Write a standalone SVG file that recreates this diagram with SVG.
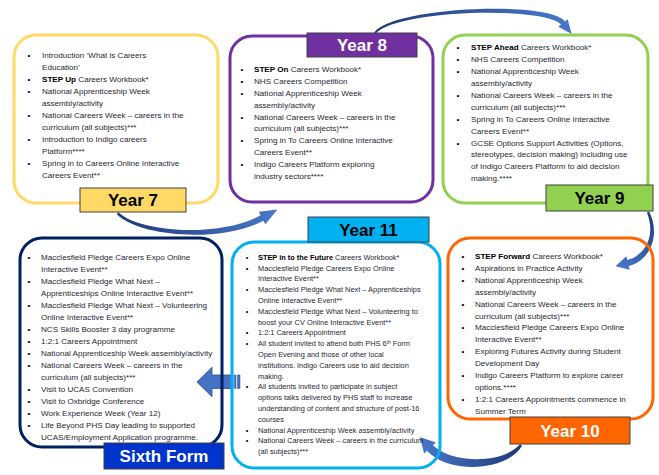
<svg xmlns="http://www.w3.org/2000/svg" width="659" height="475" viewBox="0 0 659 475">
<defs>
<style>
.t{font-family:"Liberation Sans",Arial,sans-serif;font-size:8.1px;fill:#1f1f33}
.s{font-size:7.4px}
.b{font-weight:bold;fill:#000}
.bu{text-anchor:middle;fill:#000}
.lbl{font-family:"Liberation Sans",Arial,sans-serif;font-weight:bold;font-size:17px;text-anchor:middle}
.box{fill:none;stroke-width:3}
.lab{stroke:#404040;stroke-width:1}
.arr{stroke:none}
</style>
<linearGradient id="g1" gradientUnits="userSpaceOnUse" x1="118" y1="214" x2="278" y2="208"><stop offset="0" stop-color="#1F3A78"/><stop offset="1" stop-color="#4A78CC"/></linearGradient>
<linearGradient id="g2" gradientUnits="userSpaceOnUse" x1="375" y1="33" x2="571" y2="34"><stop offset="0" stop-color="#1F3A78"/><stop offset="1" stop-color="#4A78CC"/></linearGradient>
<linearGradient id="g3" gradientUnits="userSpaceOnUse" x1="648" y1="212" x2="615" y2="266"><stop offset="0" stop-color="#1F3A78"/><stop offset="1" stop-color="#4A78CC"/></linearGradient>
<linearGradient id="g4" gradientUnits="userSpaceOnUse" x1="521" y1="445" x2="420" y2="437"><stop offset="0" stop-color="#1F3A78"/><stop offset="1" stop-color="#4A78CC"/></linearGradient>
</defs>
<rect width="659" height="475" fill="#fff"/>

<g id="connectors">
<path id="a7to8" class="arr" fill="url(#g1)" d="M118,212 C140,233 220,237.5 260.6,215.3 L258.75,211.8 L277.5,209.5 L265.25,224.2 L263.4,220.7 C221,243 140,237 117,214.5 Z"/>
<path id="a8to9" class="arr" fill="url(#g2)" d="M375.8,33.6 C396,9.5 546,6 561,24.5 L558.3,26.7 L571.7,34 L567.7,19.3 L565,21.5 C550,0.5 394,6.5 374.2,32.4 Z"/>
<path id="a9to10" class="arr" fill="url(#g3)" d="M646.9,212.5 C656,235 646,255 627.3,260.1 L626.3,256.2 L615.4,266.2 L629.7,269.8 L628.7,265.9 C650,261 661,235 649.1,211.5 Z"/>
<path id="a10to11" class="arr" fill="url(#g4)" d="M520,444.3 C503,464 452,464 433,445.3 L435.9,442.6 L419.9,436.9 L424.1,453.4 L427,450.7 C448,474 507,472 522,445.7 Z"/>
<g id="a11to6">
<path fill="#4472C4" stroke="#2F528F" stroke-width="0.8" d="M197,382 L212,367.3 L212,375 L233,375 L233,388.5 L212,388.5 L212,396.7 Z"/>
<rect x="234.5" y="375" width="1.5" height="13.5" fill="#4472C4" stroke="#2F528F" stroke-width="0.5"/>
<rect x="237.5" y="375" width="2.5" height="13.5" fill="#4472C4" stroke="#2F528F" stroke-width="0.5"/>
</g>
</g>

<g id="year7">
<rect class="box" x="14" y="35" width="204" height="168" rx="22" stroke="#FFD966"/>
<rect class="lab" x="80" y="188" width="106" height="24" fill="#FFD966"/>
<text class="lbl" x="133" y="206" fill="#000">Year 7</text>
<g class="t">
<text class="bu" x="29" y="57.5">•</text><text x="42" y="57.5">Introduction ‘What is Careers</text>
<text x="42" y="69.5">Education’</text>
<text class="bu" x="29" y="81.5">•</text><text x="42" y="81.5"><tspan class="b">STEP Up</tspan> Careers Workbook*</text>
<text class="bu" x="29" y="93.5">•</text><text x="42" y="93.5">National Apprenticeship Week</text>
<text x="42" y="105.5">assembly/activity</text>
<text class="bu" x="29" y="117.5">•</text><text x="42" y="117.5">National Careers Week – careers in the</text>
<text x="42" y="129.5">curriculum (all subjects)***</text>
<text class="bu" x="29" y="141.5">•</text><text x="42" y="141.5">Introduction to Indigo careers</text>
<text x="42" y="153.5">Platform****</text>
<text class="bu" x="29" y="165.5">•</text><text x="42" y="165.5">Spring in to Careers Online Interactive</text>
<text x="42" y="177.5">Careers Event**</text>
</g>
</g>

<g id="year8">
<rect class="box" x="230" y="36" width="203" height="166" rx="22" stroke="#7030A0"/>
<rect class="lab" x="307" y="33" width="110" height="24" fill="#7030A0"/>
<text class="lbl" x="362" y="51" fill="#fff">Year 8</text>
<g class="t">
<text class="bu" x="242" y="72.3">•</text><text x="254" y="72.3"><tspan class="b">STEP On</tspan> Careers Workbook*</text>
<text class="bu" x="242" y="84.1">•</text><text x="254" y="84.1">NHS Careers Competition</text>
<text class="bu" x="242" y="95.9">•</text><text x="254" y="95.9">National Apprenticeship Week</text>
<text x="254" y="107.7">assembly/activity</text>
<text class="bu" x="242" y="119.5">•</text><text x="254" y="119.5">National Careers Week – careers in the</text>
<text x="254" y="131.3">curriculum (all subjects)***</text>
<text class="bu" x="242" y="143.1">•</text><text x="254" y="143.1">Spring in To Careers Online Interactive</text>
<text x="254" y="154.9">Careers Event**</text>
<text class="bu" x="242" y="166.7">•</text><text x="254" y="166.7">Indigo Careers Platform exploring</text>
<text x="254" y="178.5">industry sectors****</text>
</g>
</g>

<g id="year9">
<rect class="box" x="443" y="35" width="205" height="168" rx="22" stroke="#92D050"/>
<rect class="lab" x="546" y="185" width="107" height="26" fill="#92D050"/>
<text class="lbl" x="599.5" y="204" fill="#000">Year 9</text>
<g class="t">
<text class="bu" x="458" y="50.3">•</text><text x="471" y="50.3"><tspan class="b">STEP Ahead</tspan> Careers Workbook*</text>
<text class="bu" x="458" y="62.2">•</text><text x="471" y="62.2">NHS Careers Competition</text>
<text class="bu" x="458" y="74.1">•</text><text x="471" y="74.1">National Apprenticeship Week</text>
<text x="471" y="86">assembly/activity</text>
<text class="bu" x="458" y="97.9">•</text><text x="471" y="97.9">National Careers Week – careers in the</text>
<text x="471" y="109.8">curriculum (all subjects)***</text>
<text class="bu" x="458" y="121.7">•</text><text x="471" y="121.7">Spring in To Careers Online Interactive</text>
<text x="471" y="133.6">Careers Event**</text>
<text class="bu" x="458" y="145.5">•</text><text x="471" y="145.5">GCSE Options Support Activities (Options,</text>
<text x="471" y="157.4">stereotypes, decision making) including use</text>
<text x="471" y="169.3">of Indigo Careers Platform to aid decision</text>
<text x="471" y="181.2">making.****</text>
</g>
</g>

<g id="sixthform">
<rect class="box" x="20" y="238" width="202" height="209" rx="22" stroke="#002060"/>
<rect class="lab" x="104" y="443" width="120" height="26" fill="#0033CC"/>
<text class="lbl" x="164" y="462" fill="#fff">Sixth Form</text>
<g class="t">
<text class="bu" x="29" y="260.3">•</text><text x="41" y="260.3">Macclesfield Pledge Careers Expo Online</text>
<text x="41" y="272.3">Interactive Event**</text>
<text class="bu" x="29" y="284.2">•</text><text x="41" y="284.2">Macclesfield Pledge What Next –</text>
<text x="41" y="296.2">Apprenticeships Online Interactive Event**</text>
<text class="bu" x="29" y="308.1">•</text><text x="41" y="308.1">Macclesfield Pledge What Next – Volunteering</text>
<text x="41" y="320.1">Online Interactive Event**</text>
<text class="bu" x="29" y="332.1">•</text><text x="41" y="332.1">NCS Skills Booster 3 day programme</text>
<text class="bu" x="29" y="344">•</text><text x="41" y="344">1:2:1 Careers Appointment</text>
<text class="bu" x="29" y="356">•</text><text x="41" y="356">National Apprenticeship Week assembly/activity</text>
<text class="bu" x="29" y="367.9">•</text><text x="41" y="367.9">National Careers Week – careers in the</text>
<text x="41" y="379.9">curriculum (all subjects)***</text>
<text class="bu" x="29" y="391.9">•</text><text x="41" y="391.9">Visit to UCAS Convention</text>
<text class="bu" x="29" y="403.8">•</text><text x="41" y="403.8">Visit to Oxbridge Conference</text>
<text class="bu" x="29" y="415.8">•</text><text x="41" y="415.8">Work Experience Week (Year 12)</text>
<text class="bu" x="29" y="427.7">•</text><text x="41" y="427.7">Life Beyond PHS Day leading to supported</text>
<text x="41" y="439.7">UCAS/Employment Application programme.</text>
</g>
</g>

<g id="year11">
<rect class="box" x="232" y="242" width="208" height="226" rx="22" stroke="#00B0F0"/>
<rect class="lab" x="308" y="217" width="121" height="25" fill="#00B0F0"/>
<text class="lbl" x="368.5" y="235.5" fill="#000">Year 11</text>
<g class="t s">
<text class="bu" x="247" y="259.8">•</text><text x="258" y="259.8"><tspan class="b">STEP in to the Future</tspan> Careers Workbook*</text>
<text class="bu" x="247" y="270.6">•</text><text x="258" y="270.6">Macclesfield Pledge Careers Expo Online</text>
<text x="258" y="281.4">Interactive Event**</text>
<text class="bu" x="247" y="292.2">•</text><text x="258" y="292.2">Macclesfield Pledge What Next – Apprenticeships</text>
<text x="258" y="303">Online Interactive Event**</text>
<text class="bu" x="247" y="313.8">•</text><text x="258" y="313.8">Macclesfield Pledge What Next – Volunteering to</text>
<text x="258" y="324.6">boost your CV Online Interactive Event**</text>
<text class="bu" x="247" y="335.4">•</text><text x="258" y="335.4">1:2:1 Careers Appointment</text>
<text class="bu" x="247" y="346.2">•</text><text x="258" y="346.2">All student invited to attend both PHS 6<tspan dy="-2.5" font-size="4.8">th</tspan><tspan dy="2.5"> Form</tspan></text>
<text x="258" y="357">Open Evening and those of other local</text>
<text x="258" y="367.8">institutions. Indigo Careers use to aid decision</text>
<text x="258" y="378.6">making.</text>
<text class="bu" x="247" y="389.4">•</text><text x="258" y="389.4">All students invited to participate in subject</text>
<text x="258" y="400.2">options talks delivered by PHS staff to increase</text>
<text x="258" y="411">understanding of content and structure of post-16</text>
<text x="258" y="421.8">courses</text>
<text class="bu" x="247" y="432.6">•</text><text x="258" y="432.6">National Apprenticeship Week assembly/activity</text>
<text class="bu" x="247" y="443.4">•</text><text x="258" y="443.4">National Careers Week – careers in the curriculum</text>
<text x="258" y="454.2">(all subjects)***</text>
</g>
</g>

<g id="year10">
<rect class="box" x="448" y="238" width="205" height="181" rx="22" stroke="#FF6600"/>
<rect class="lab" x="510" y="417" width="120" height="27" fill="#FF6600"/>
<text class="lbl" x="570" y="436.5" fill="#fff">Year 10</text>
<g class="t">
<text class="bu" x="463" y="259">•</text><text x="475" y="259"><tspan class="b">STEP Forward</tspan> Careers Workbook*</text>
<text class="bu" x="463" y="270.9">•</text><text x="475" y="270.9">Aspirations in Practice Activity</text>
<text class="bu" x="463" y="282.8">•</text><text x="475" y="282.8">National Apprenticeship Week</text>
<text x="475" y="294.7">assembly/activity</text>
<text class="bu" x="463" y="306.6">•</text><text x="475" y="306.6">National Careers Week – careers in the</text>
<text x="475" y="318.5">curriculum (all subjects)***</text>
<text class="bu" x="463" y="330.4">•</text><text x="475" y="330.4">Macclesfield Pledge Careers Expo Online</text>
<text x="475" y="342.3">Interactive Event**</text>
<text class="bu" x="463" y="354.2">•</text><text x="475" y="354.2">Exploring Futures Activity during Student</text>
<text x="475" y="366.1">Development Day</text>
<text class="bu" x="463" y="378">•</text><text x="475" y="378">Indigo Careers Platform to explore career</text>
<text x="475" y="389.9">options.****</text>
<text class="bu" x="463" y="401.8">•</text><text x="475" y="401.8">1:2:1 Careers Appointments commence in</text>
<text x="475" y="413.7">Summer Term</text>
</g>
</g>
</svg>
